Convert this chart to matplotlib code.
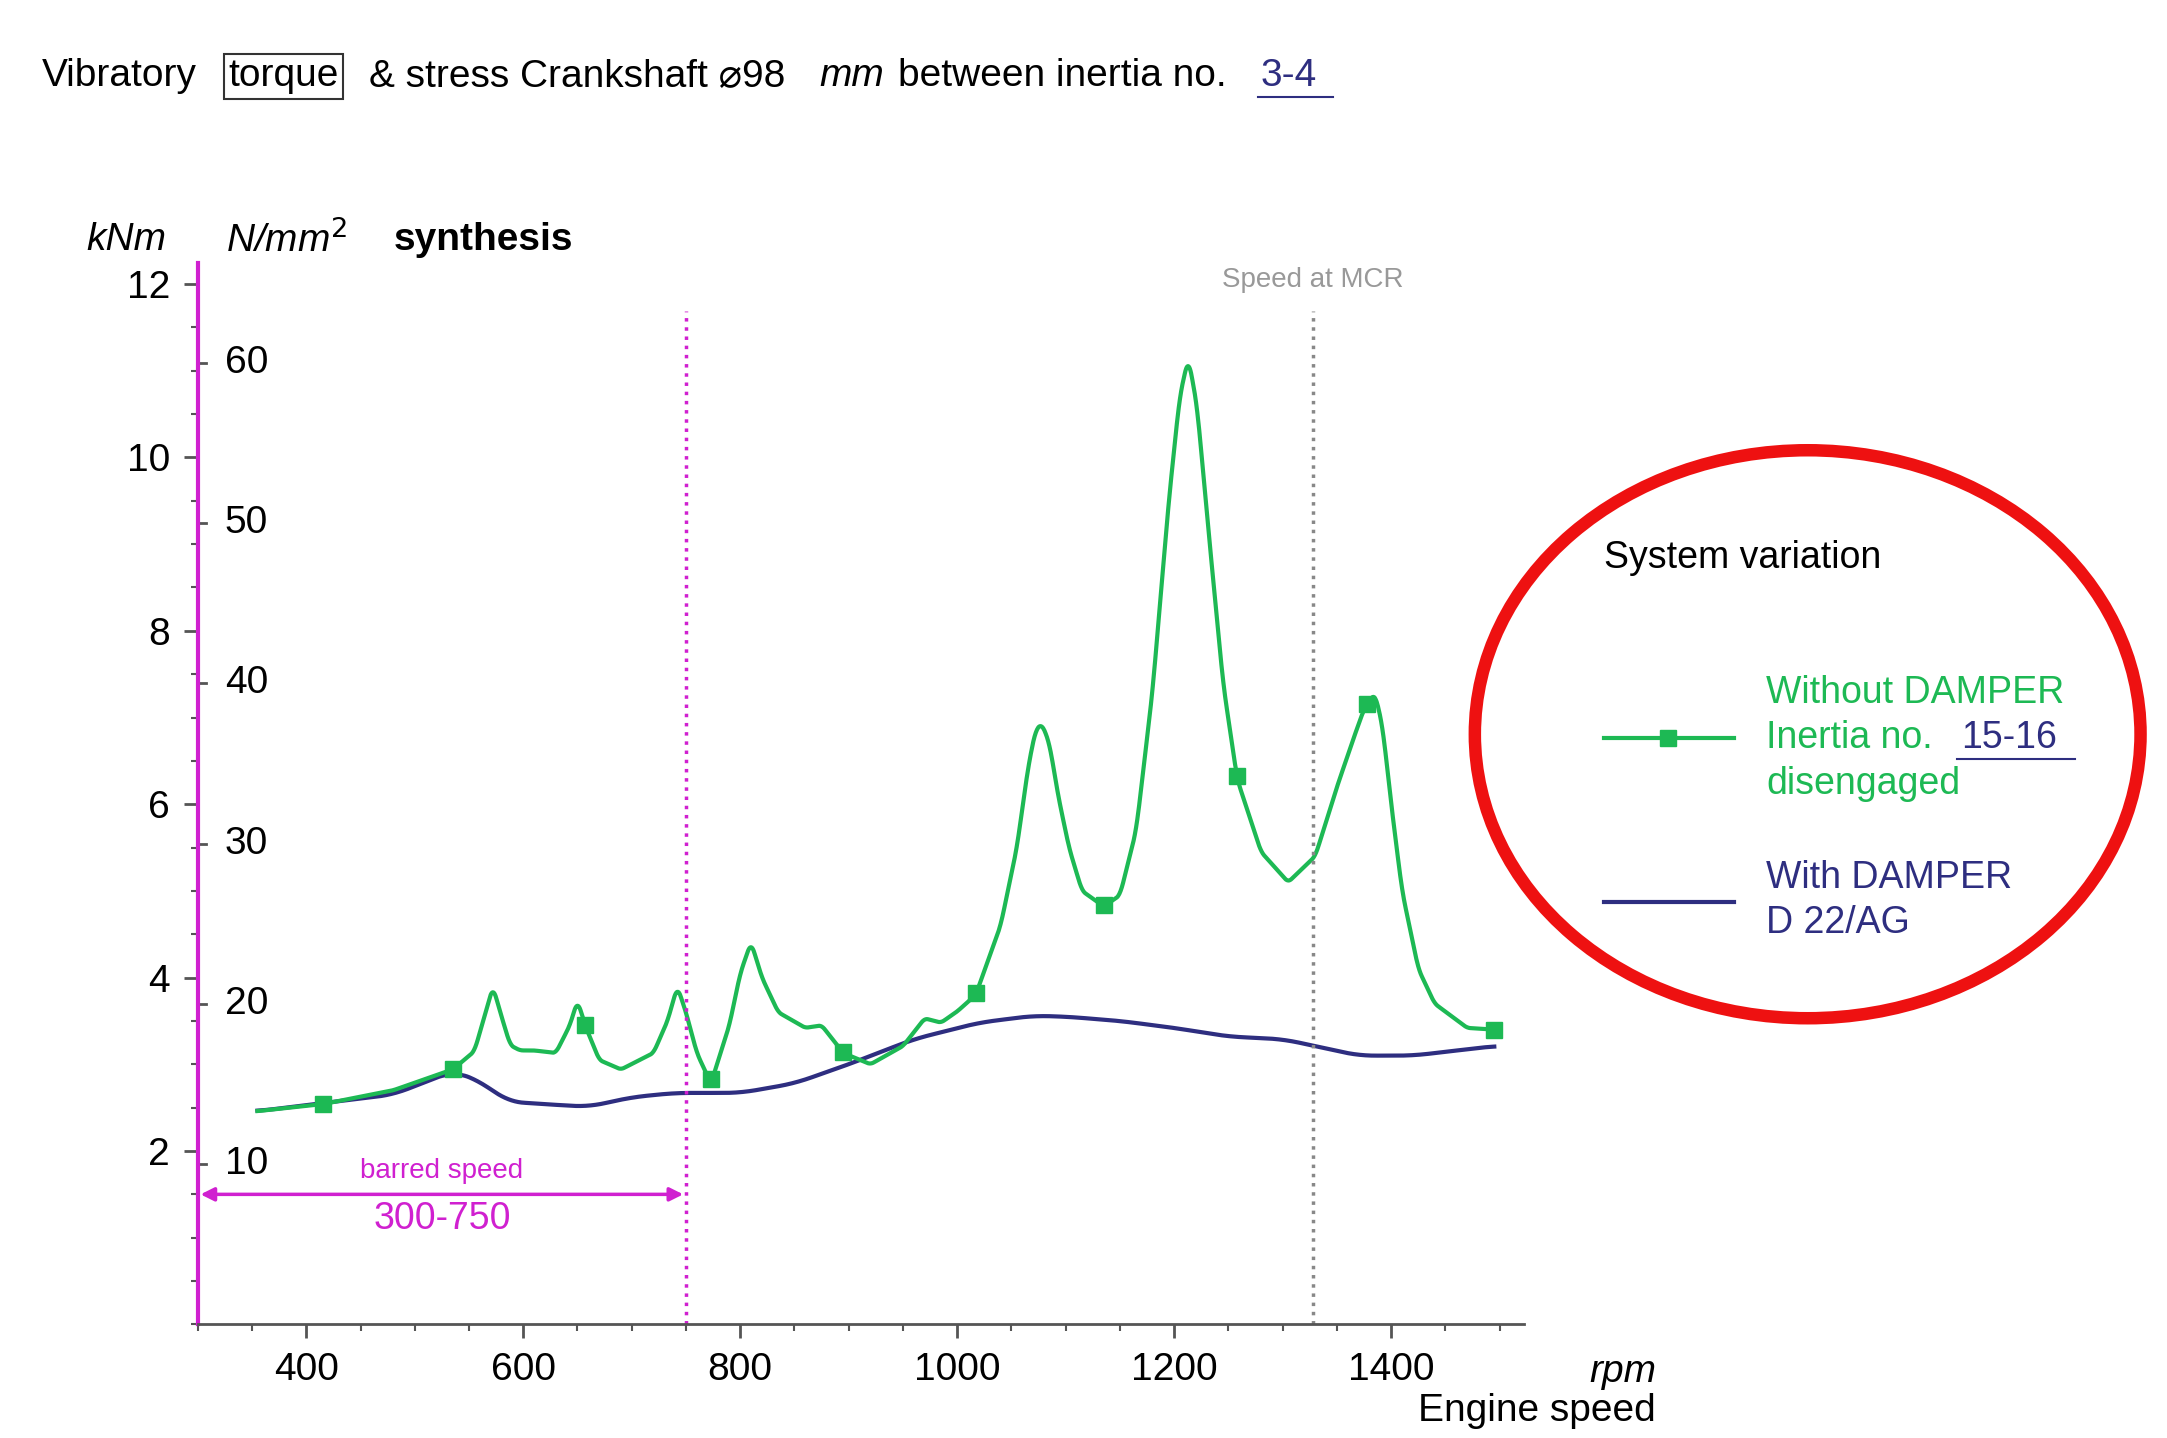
import matplotlib
matplotlib.use("Agg")
import matplotlib.pyplot as plt
from matplotlib.patches import Ellipse
import numpy as np

plt.rcParams['font.family'] = ['Liberation Sans', 'DejaVu Sans']

green_rpm = [355,415,480,535,555,563,572,580,588,597,610,630,643,650,657,670,690,720,733,742,750,760,773,790,800,810,820,835,860,875,895,920,950,970,985,1000,1017,1040,1055,1065,1072,1078,1085,1093,1103,1115,1135,1150,1165,1180,1195,1205,1213,1221,1232,1245,1258,1280,1305,1330,1350,1365,1375,1385,1392,1400,1410,1425,1440,1470,1495]
green_knm = [2.46,2.54,2.70,2.94,3.15,3.50,3.90,3.55,3.22,3.16,3.16,3.13,3.45,3.74,3.45,3.05,2.94,3.13,3.50,3.90,3.60,3.13,2.78,3.45,4.05,4.41,4.00,3.60,3.42,3.45,3.13,3.00,3.21,3.53,3.48,3.61,3.80,4.60,5.50,6.40,6.85,6.93,6.70,6.10,5.50,5.00,4.82,4.95,5.70,7.30,9.50,10.70,11.15,10.60,9.10,7.40,6.29,5.45,5.10,5.40,6.20,6.75,7.10,7.28,6.90,6.00,5.00,4.10,3.70,3.42,3.40]
marker_rpm = [415,535,657,773,895,1017,1135,1258,1378,1495]
blue_rpm = [355,480,535,560,585,620,660,700,740,800,850,900,960,1020,1070,1100,1150,1200,1250,1300,1330,1370,1420,1495]
blue_knm = [2.46,2.65,2.92,2.81,2.57,2.54,2.51,2.62,2.67,2.67,2.78,3.00,3.29,3.48,3.56,3.55,3.50,3.42,3.32,3.29,3.21,3.10,3.10,3.21]
knm_ticks = [2,4,6,8,10,12]
stress_ticks = [10,20,30,40,50,60]
stress_per_knm = 5.41
rpm_ticks = [400,600,800,1000,1200,1400]

GREEN = '#1db954'
BLUE = '#2e2e80'
MAG = '#d020d0'

fig = plt.figure(figsize=(21.67,14.38), dpi=100)
W, H = 1556, 1038
ax = fig.add_axes([142/W, (1038-956)/H, 952/W, (956-190)/H])
ax.set_xlim(300, 1522)
ax.set_ylim(0, 12.24)

gx = np.linspace(min(green_rpm), max(green_rpm), 2000)
gy = np.interp(gx, green_rpm, green_knm)
k = np.ones(11)/11
gys = np.convolve(np.pad(gy, 5, mode='edge'), k, mode='valid')
bx = np.linspace(min(blue_rpm), max(blue_rpm), 1500)
by = np.interp(bx, blue_rpm, blue_knm)
k2 = np.ones(41)/41
bys = np.convolve(np.pad(by, 20, mode='edge'), k2, mode='valid')
ax.plot(bx, bys, color=BLUE, lw=3)
ax.plot(gx, gys, color=GREEN, lw=3)
ax.plot(marker_rpm, np.interp(marker_rpm, gx, gys), 's', color=GREEN, ms=11, ls='none')

ax.axvline(750, ymax=0.955, color=MAG, ls=':', lw=2.5)
ax.axvline(1328, ymax=0.955, color='#888888', ls=':', lw=2.5)
ax.annotate('', xy=(750,1.5), xytext=(300,1.5), arrowprops=dict(arrowstyle='<|-|>', color=MAG, lw=2.5, mutation_scale=20))
ax.text(525, 1.77, 'barred speed', color=MAG, ha='center', va='center', fontsize=20)
ax.text(525, 1.21, '300-750', color=MAG, ha='center', va='center', fontsize=27)
ax.text(1328, 12.05, 'Speed at MCR', color='#999999', ha='center', va='center', fontsize=20)

for s in ['top','right']:
    ax.spines[s].set_visible(False)
ax.spines['left'].set_color(MAG)
ax.spines['left'].set_linewidth(3)
ax.spines['bottom'].set_color('#555555')
ax.spines['bottom'].set_linewidth(2)
ax.set_xticks(rpm_ticks)
ax.set_xticks(np.arange(300, 1501, 50), minor=True)
ax.set_xticklabels([str(v) for v in rpm_ticks], fontsize=28)
ax.set_yticks(knm_ticks)
ax.set_yticks(np.arange(0, 12.1, 0.5), minor=True)
ax.set_yticklabels([str(v) for v in knm_ticks], fontsize=28)
ax.tick_params(axis='both', which='major', length=10, width=2, color='#555555', pad=10)
ax.tick_params(axis='both', which='minor', length=5, width=1.5, color='#555555')
for v in stress_ticks:
    y = v / stress_per_knm
    ax.plot([300, 308], [y, y], color='#555555', lw=2, clip_on=False)
    ax.text(325, y, str(v), fontsize=28, va='center', ha='left')

ax.text(1.1, -0.045, 'rpm', transform=ax.transAxes, fontsize=28, style='italic', ha='right', va='center')
ax.text(1.1, -0.082, 'Engine speed', transform=ax.transAxes, fontsize=28, ha='right', va='center')

def fx(x): return x / W
def fy(y): return 1 - y / H
fig.text(fx(30), fy(55), 'Vibratory', fontsize=28, va='center')
fig.text(fx(164), fy(55), 'torque', fontsize=28, va='center',
         bbox=dict(boxstyle='square,pad=0.12', fc='none', ec='#333333', lw=1.5))
fig.text(fx(265), fy(55), '& stress Crankshaft \u230098', fontsize=28, va='center')
fig.text(fx(588), fy(55), 'mm', fontsize=28, va='center', style='italic')
fig.text(fx(645), fy(55), 'between inertia no.', fontsize=28, va='center')
fig.text(fx(905), fy(55), '3-4', fontsize=28, va='center', color=BLUE)
fig.add_artist(plt.Line2D([fx(903), fx(957)], [fy(70), fy(70)], color=BLUE, lw=1.5))

fig.text(fx(62), fy(173), 'kNm', fontsize=28, style='italic', va='center')
fig.text(fx(162), fy(173), 'N/mm$^2$', fontsize=28, style='italic', va='center')
fig.text(fx(283), fy(173), 'synthesis', fontsize=28, weight='bold', va='center')

ell = Ellipse((fx(1298), fy(530)), 478/W, 410/H, transform=fig.transFigure, fill=False, ec='#ee1111', lw=9)
fig.add_artist(ell)
fig.text(fx(1152), fy(403), 'System variation', fontsize=27, va='center')
fig.add_artist(plt.Line2D([fx(1152), fx(1245)], [fy(533), fy(533)], color=GREEN, lw=3))
fig.add_artist(plt.Line2D([fx(1198)], [fy(533)], color=GREEN, marker='s', ms=11))
fig.text(fx(1268), fy(500), 'Without DAMPER', fontsize=27, va='center', color=GREEN)
fig.text(fx(1268), fy(533), 'Inertia no.', fontsize=27, va='center', color=GREEN)
fig.text(fx(1408), fy(533), '15-16', fontsize=27, va='center', color=BLUE)
fig.add_artist(plt.Line2D([fx(1405), fx(1490)], [fy(548), fy(548)], color=BLUE, lw=1.5))
fig.text(fx(1268), fy(566), 'disengaged', fontsize=27, va='center', color=GREEN)
fig.add_artist(plt.Line2D([fx(1152), fx(1245)], [fy(651), fy(651)], color=BLUE, lw=3))
fig.text(fx(1268), fy(634), 'With DAMPER', fontsize=27, va='center', color=BLUE)
fig.text(fx(1268), fy(666), 'D 22/AG', fontsize=27, va='center', color=BLUE)

fig.savefig('out.png', dpi=100)
